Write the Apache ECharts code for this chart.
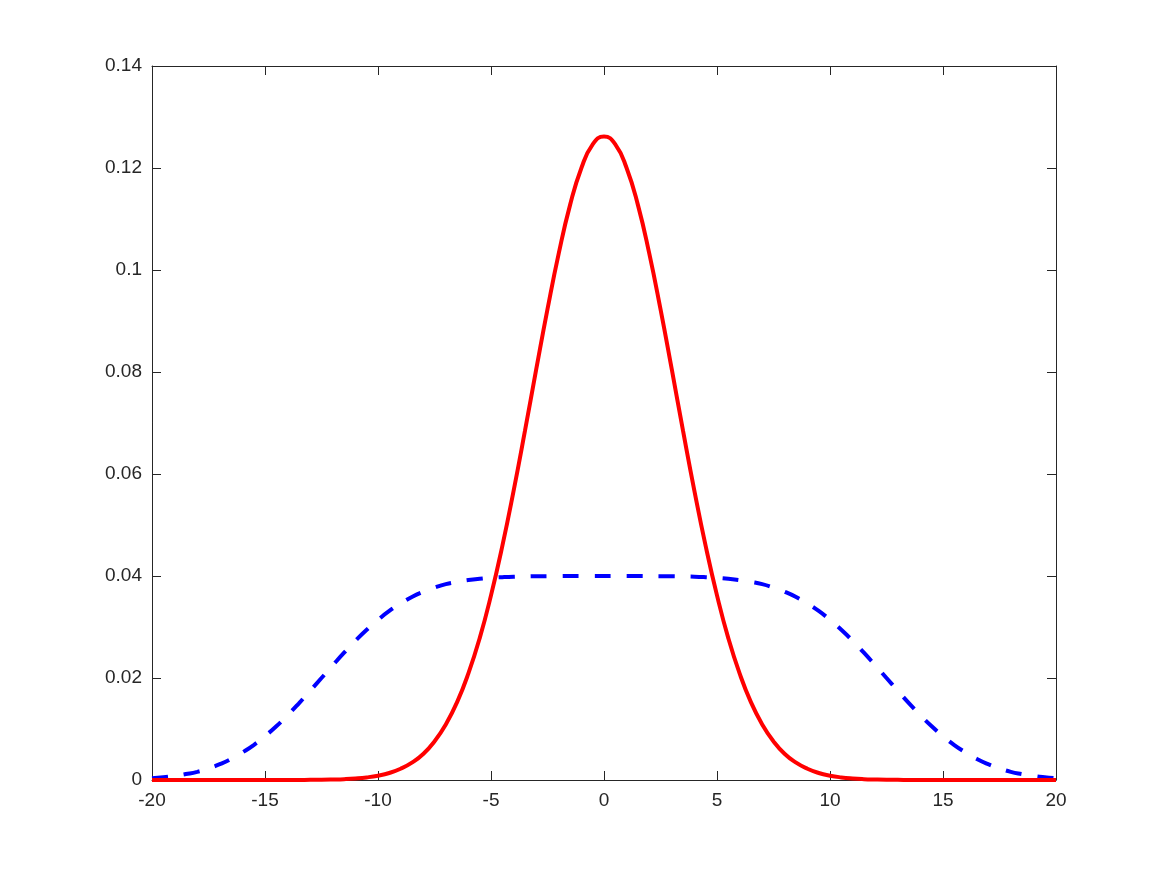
<!DOCTYPE html>
<html lang="en">
    <head>
        <meta charset="UTF-8" />
        <title>Gaussian vs smoothed uniform</title>
        <script src="https://cdn.jsdelivr.net/npm/echarts@6/dist/echarts.min.js"></script>
        <style>
            body,
            html {
                margin: 0;
                padding: 0;
                width: 100%;
                height: 100%;
                overflow: hidden;
                background-color: #fff;
            }
            #main {
                width: 1167px;
                height: 875px;
            }
        </style>
    </head>
    <body>
        <div id="main"></div>
        <script>
            const xs = [
                -20, -19.5, -19, -18.5, -18, -17.5, -17, -16.5, -16, -15.5, -15, -14.5, -14, -13.5, -13, -12.5,
                -12, -11.5, -11, -10.5, -10, -9.5, -9, -8.5, -8, -7.5, -7, -6.5, -6, -5.5, -5, -4.5, -4, -3.5, -3,
                -2.5, -2, -1.5, -1, -0.5, 0, 0.5, 1, 1.5, 2, 2.5, 3, 3.5, 4, 4.5, 5, 5.5, 6, 6.5, 7, 7.5, 8, 8.5,
                9, 9.5, 10, 10.5, 11, 11.5, 12, 12.5, 13, 13.5, 14, 14.5, 15, 15.5, 16, 16.5, 17, 17.5, 18, 18.5,
                19, 19.5, 20,
            ]
            // red solid curve (narrow bell)
            const redValues = [
                0, 0, 0, 0, 0, 0, 0, 0, 0, 0, 0, 0, 0, 0.00001, 0.00003, 0.00005, 0.0001, 0.00017, 0.0003,
                0.00051, 0.00085, 0.00138, 0.0022, 0.0034, 0.0051, 0.00758, 0.0109, 0.01526, 0.0209, 0.02781,
                0.0362, 0.04585, 0.0567, 0.0684, 0.0805, 0.09233, 0.1033, 0.11277, 0.12, 0.12463, 0.1262,
                0.12463, 0.12, 0.11277, 0.1033, 0.09233, 0.0805, 0.0684, 0.0567, 0.04585, 0.0362, 0.02781,
                0.0209, 0.01526, 0.0109, 0.00758, 0.0051, 0.0034, 0.0022, 0.00138, 0.00085, 0.00051, 0.0003,
                0.00017, 0.0001, 0.00005, 0.00003, 0.00001, 0, 0, 0, 0, 0, 0, 0, 0, 0, 0, 0, 0, 0,
            ]
            // blue dashed curve (wide flat-topped)
            const blueValues = [
                0.00035, 0.00054, 0.0008, 0.00116, 0.0016, 0.00228, 0.0031, 0.00412, 0.0054, 0.00685, 0.0086,
                0.01054, 0.0127, 0.01504, 0.0175, 0.02, 0.0225, 0.02496, 0.0273, 0.02946, 0.0314, 0.03315,
                0.0346, 0.03588, 0.0369, 0.03772, 0.0384, 0.03884, 0.0392, 0.03946, 0.03965, 0.03977, 0.03986,
                0.03991, 0.03995, 0.03997, 0.03998, 0.03999, 0.04, 0.04, 0.04, 0.04, 0.04, 0.03999, 0.03998,
                0.03997, 0.03995, 0.03991, 0.03986, 0.03977, 0.03965, 0.03946, 0.0392, 0.03884, 0.0384, 0.03772,
                0.0369, 0.03588, 0.0346, 0.03315, 0.0314, 0.02946, 0.0273, 0.02496, 0.0225, 0.02, 0.0175,
                0.01504, 0.0127, 0.01054, 0.0086, 0.00685, 0.0054, 0.00412, 0.0031, 0.00228, 0.0016, 0.00116,
                0.0008, 0.00054, 0.00035,
            ]

            const chart = echarts.init(document.getElementById("main"))
            const ink = "#262626"
            const labelFont = { color: ink, fontSize: 19, fontFamily: "Liberation Sans" }

            function boxAxis(extra) {
                return Object.assign(
                    {
                        type: "value",
                        axisLine: { show: true, onZero: false, lineStyle: { color: ink, width: 1 } },
                        axisTick: { show: true, inside: true, length: 9, lineStyle: { color: ink } },
                        splitLine: { show: false },
                    },
                    extra
                )
            }

            const pairs = (vals) => xs.map((x, i) => [x, vals[i]])

            chart.setOption({
                animation: false,
                grid: { left: 152, top: 66, right: 111, bottom: 95 },
                xAxis: [
                    boxAxis({ min: -20, max: 20, interval: 5, position: "bottom", axisLabel: Object.assign({ margin: 11 }, labelFont) }),
                    boxAxis({ min: -20, max: 20, interval: 5, position: "top", axisLabel: { show: false } }),
                ],
                yAxis: [
                    boxAxis({ min: 0, max: 0.14, interval: 0.02, position: "left", axisLabel: Object.assign({ margin: 10 }, labelFont) }),
                    boxAxis({ min: 0, max: 0.14, interval: 0.02, position: "right", axisLabel: { show: false } }),
                ],
                series: [
                    {
                        type: "line",
                        data: pairs(blueValues),
                        smooth: true,
                        showSymbol: false,
                        clip: false,
                        lineStyle: { color: "#0000ff", width: 4, type: [16, 16] },
                        z: 3,
                    },
                    {
                        type: "line",
                        data: pairs(redValues),
                        smooth: true,
                        showSymbol: false,
                        clip: false,
                        lineStyle: { color: "#ff0000", width: 4 },
                        z: 4,
                    },
                ],
            })
        </script>
    </body>
</html>
